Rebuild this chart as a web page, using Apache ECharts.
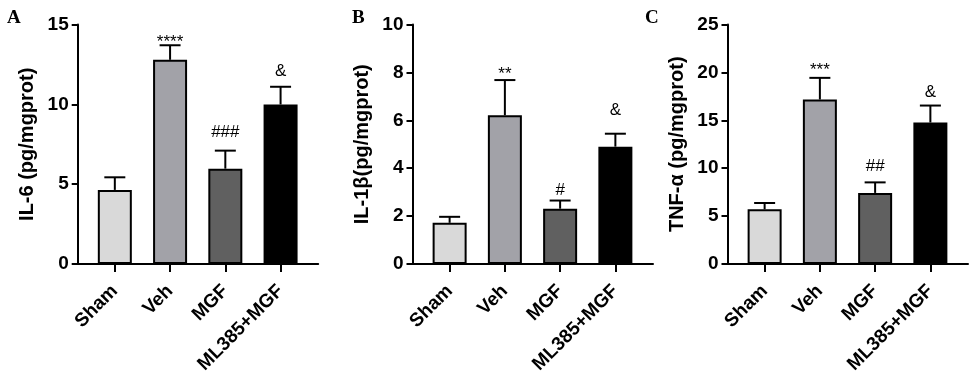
<!DOCTYPE html>
<html>
<head>
<meta charset="utf-8">
<script src="https://cdn.jsdelivr.net/npm/echarts@6/dist/echarts.min.js"></script>
<style>
html,body{margin:0;padding:0;background:#fff;}
#chart{width:969px;height:376px;}
</style>
</head>
<body>
<div id="chart"></div>
<script>
// ---- data ----
const categories = ['Sham', 'Veh', 'MGF', 'ML385+MGF'];
const barColors = ['#d9d9d9', '#a2a2a8', '#606060', '#000000'];

const il6Mean = [4.64, 12.79, 5.97, 9.99];
const il6Err = [0.79, 0.91, 1.13, 1.11];
const il6Marks = ['', '****', '###', '&'];
const il6MarkY = [null, 13.9, 8.23, 12.08];
const il6Ticks = { min: 0, max: 15, interval: 5 };

const il1bMean = [1.72, 6.21, 2.31, 4.90];
const il1bErr = [0.25, 1.47, 0.34, 0.54];
const il1bMarks = ['', '**', '#', '&'];
const il1bMarkY = [null, 7.94, 3.07, 6.42];
const il1bTicks = { min: 0, max: 10, interval: 2 };

const tnfMean = [5.71, 17.17, 7.42, 14.77];
const tnfErr = [0.66, 2.26, 1.10, 1.77];
const tnfMarks = ['', '***', '##', '&'];
const tnfMarkY = [null, 20.25, 10.17, 17.9];
const tnfTicks = { min: 0, max: 25, interval: 5 };

const panelLetters = ['A', 'B', 'C'];
const yTitles = ['IL-6 (pg/mgprot)', 'IL-1β(pg/mgprot)', 'TNF-α (pg/mgprot)'];

const panels = [
  { mean: il6Mean, err: il6Err, marks: il6Marks, markY: il6MarkY, ticks: il6Ticks },
  { mean: il1bMean, err: il1bErr, marks: il1bMarks, markY: il1bMarkY, ticks: il1bTicks },
  { mean: tnfMean, err: tnfErr, marks: tnfMarks, markY: tnfMarkY, ticks: tnfTicks }
];

// ---- layout ----
const axisLeft = [77.7, 412.5, 727.5];
const letterLeft = [2, 347, 640];
const gridTop = 24.5, gridHeight = 239.5, axisWidth = 240.5;
const barInset = 9.5, barAreaWidth = 221;
const FONT = '"Liberation Sans", Arial, sans-serif';

const grid = [], xAxis = [], yAxis = [], series = [], title = [];

panels.forEach((p, k) => {
  const gA = k * 2, gB = k * 2 + 1;
  grid.push({ left: axisLeft[k], top: gridTop, width: axisWidth, height: gridHeight, containLabel: false, outerBoundsMode: 'none' });
  grid.push({ left: axisLeft[k] + barInset, top: gridTop, width: barAreaWidth, height: gridHeight, containLabel: false, outerBoundsMode: 'none' });

  // axis-only grid
  xAxis.push({
    gridIndex: gA, type: 'value', min: 0, max: 1,
    axisLine: { show: true, onZero: false, lineStyle: { color: '#000', width: 2 } },
    axisTick: { show: false }, axisLabel: { show: false }, splitLine: { show: false }
  });
  yAxis.push({
    gridIndex: gA, type: 'value', min: p.ticks.min, max: p.ticks.max, interval: p.ticks.interval,
    name: yTitles[k], nameLocation: 'middle', nameGap: 40,
    nameTextStyle: { fontFamily: FONT, fontWeight: 'bold', fontSize: 20, color: '#000' },
    axisLine: { show: true, lineStyle: { color: '#000', width: 2 } },
    axisTick: { show: true, length: 6, lineStyle: { color: '#000', width: 2 } },
    axisLabel: { margin: 9, fontFamily: FONT, fontWeight: 'bold', fontSize: 19, color: '#000' },
    splitLine: { show: false }
  });

  // bar grid
  xAxis.push({
    gridIndex: gB, type: 'category', data: categories,
    axisLine: { show: false },
    axisTick: { show: true, alignWithLabel: true, length: 8, lineStyle: { color: '#000', width: 2 } },
    axisLabel: { rotate: 45, margin: 24, interval: 0, fontFamily: FONT, fontWeight: 'bold', fontSize: 19, color: '#000' }
  });
  yAxis.push({
    gridIndex: gB, type: 'value', min: p.ticks.min, max: p.ticks.max, show: false, splitLine: { show: false }
  });

  series.push({
    type: 'bar', xAxisIndex: gB, yAxisIndex: gB, barWidth: 34,
    data: p.mean.map((v, i) => ({ value: v, itemStyle: { color: barColors[i] } })),
    itemStyle: { borderColor: '#000', borderWidth: 2 },
    z: 3
  });

  series.push({
    type: 'custom', xAxisIndex: gB, yAxisIndex: gB, z: 2,
    data: p.mean.map((v, i) => [i, v, p.err[i]]),
    renderItem: (params, api) => {
      const i = api.value(0), m = api.value(1), e = api.value(2);
      const b = api.coord([i, m]);
      const t = api.coord([i, m + e]);
      const hw = 10.5;
      return {
        type: 'group',
        children: [
          { type: 'line', shape: { x1: b[0], y1: b[1], x2: t[0], y2: t[1] }, style: { stroke: '#000', lineWidth: 2 } },
          { type: 'line', shape: { x1: t[0] - hw, y1: t[1], x2: t[0] + hw, y2: t[1] }, style: { stroke: '#000', lineWidth: 2 } }
        ]
      };
    }
  });

  series.push({
    type: 'custom', xAxisIndex: gB, yAxisIndex: gB, z: 4,
    data: p.marks.map((s, i) => [i, p.markY[i] == null ? 0 : p.markY[i], s]).filter(d => d[2] !== ''),
    renderItem: (params, api) => {
      const i = api.value(0), y = api.value(1);
      const c = api.coord([i, y]);
      const txt = p.marks[i];
      return {
        type: 'text', x: c[0], y: c[1],
        style: { text: txt, textAlign: 'center', textVerticalAlign: 'middle', font: '17px ' + FONT, fill: '#000' }
      };
    }
  });

  title.push({
    text: panelLetters[k], left: letterLeft[k], top: 4,
    textStyle: { fontFamily: '"Liberation Serif", "Times New Roman", serif', fontWeight: 'bold', fontSize: 19, color: '#000' }
  });
});

const chart = echarts.init(document.getElementById('chart'), null, { renderer: 'canvas' });
chart.setOption({ animation: false, backgroundColor: '#fff', title, grid, xAxis, yAxis, series });
</script>
</body>
</html>
